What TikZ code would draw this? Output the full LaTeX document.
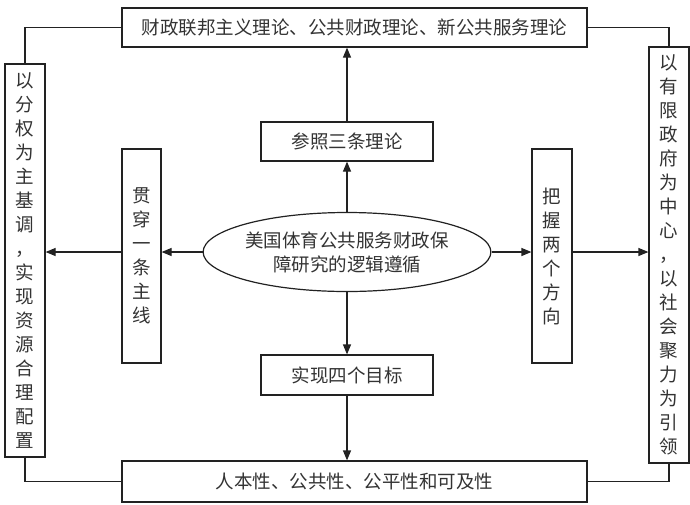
\documentclass[tikz,border=0pt]{standalone}
\usepackage{fontspec}
\setmainfont{Noto Sans CJK SC}
\usepackage{tikz}
\usetikzlibrary{shapes.geometric,arrows.meta}
\definecolor{linegray}{HTML}{222222}
\definecolor{textgray}{HTML}{333333}

\begin{document}
\begin{tikzpicture}[x=1pt,y=1pt,
  box/.style={draw=linegray, line width=1.2pt, fill=white, inner sep=0pt, align=center,
    text=textgray, font=\fontsize{18.5}{24}\selectfont},
  arr/.style={draw=linegray, line width=1.2pt, -{Triangle[length=10pt,width=8pt]}},
  link/.style={draw=linegray, line width=1.2pt}]

\useasboundingbox (0,0) rectangle (690,-504);

% the center
\node[box, ellipse, minimum width=244pt, minimum height=79pt] (logic) at (347,-252)
  {美国体育公共服务财政保\\障研究的逻辑遵循};

% upper and lower column
\node[box, minimum width=172pt, minimum height=39pt] (refer) at (347,-141.5) {参照三条理论};
\node[box, minimum width=172pt, minimum height=40pt] (goal)  at (347,-375) {实现四个目标};
\node[box, minimum width=465pt, minimum height=39pt] (theory) at (354.5,-27.5)
  {财政联邦主义理论、公共财政理论、新公共服务理论};
\node[box, minimum width=465pt, minimum height=41pt] (nature) at (354.5,-481.5)
  {人本性、公共性、公平性和可及性};

% left and right rows
\node[box, minimum width=39pt, minimum height=214pt] (line) at (141.5,-256)
  {贯\\穿\\一\\条\\主\\线};
\node[box, minimum width=40pt, minimum height=214pt] (way) at (552,-256)
  {把\\握\\两\\个\\方\\向};
\node[box, minimum width=40pt, minimum height=393pt] (power) at (25,-260.5)
  {以\\分\\权\\为\\主\\基\\调\\，\\实\\现\\资\\源\\合\\理\\配\\置};
\node[box, minimum width=40pt, minimum height=416pt] (govern) at (669,-255)
  {以\\有\\限\\政\\府\\为\\中\\心\\，\\以\\社\\会\\聚\\力\\为\\引\\领};

% arrows
\draw[arr] (logic.north) -- (refer.south);
\draw[arr] (refer.north) -- (refer.north |- theory.south);
\draw[arr] (logic.south) -- (goal.north);
\draw[arr] (goal.south) -- (goal.south |- nature.north);
\draw[arr] (logic.west) -- (logic.west -| line.east);
\draw[arr] (line.west |- logic.west) -- (power.east |- logic.west);
\draw[arr] (logic.east) -- (logic.east -| way.west);
\draw[arr] (way.east |- logic.east) -- (govern.west |- logic.east);

% outer frame
\draw[link] (theory.west) -| (power.north);
\draw[link] (theory.east) -| (govern.north);
\draw[link] (nature.west) -| (power.south);
\draw[link] (nature.east) -| (govern.south);
\end{tikzpicture}
\end{document}
